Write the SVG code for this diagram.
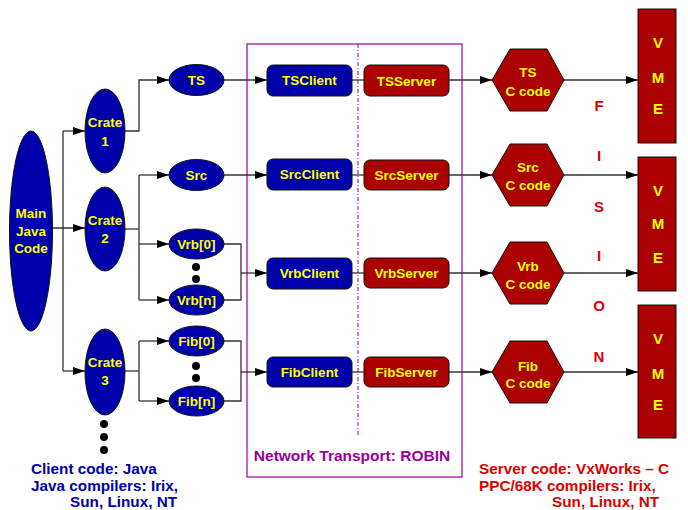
<svg xmlns="http://www.w3.org/2000/svg" width="688" height="510" viewBox="0 0 688 510">
<style>
text{font-family:"Liberation Sans",Arial,sans-serif;font-weight:bold;text-anchor:middle;dominant-baseline:central}
.bl{fill:#0000aa;stroke:#111;stroke-width:1}
.rd{fill:#aa0000;stroke:#111;stroke-width:1}
.lb{fill:#ffff00;font-size:13.5px}
.vme{fill:#ffff00;font-size:15px}
.fis{fill:#dd0000;font-size:15px}
.note{font-size:15.3px;text-anchor:start}
.c line,.c polyline{fill:none;stroke:#333;stroke-width:1.3}
.dot{fill:#000}
</style>
<defs>
<marker id="a" markerWidth="12" markerHeight="8" refX="12" refY="4" orient="auto" markerUnits="userSpaceOnUse">
<path d="M0,0 L12,4 L0,8 z" fill="#000"/>
</marker>
</defs>

<g id="transport">
<rect x="247" y="44" width="215" height="433" fill="none" stroke="#990099" stroke-width="1.2"/>
<line x1="358" y1="44" x2="358" y2="437" stroke="#990099" stroke-width="1" stroke-dasharray="4,2,1,2"/>
<text x="352" y="455" style="fill:#990099;font-size:15.5px">Network Transport: ROBIN</text>
</g>

<g class="c" id="connectors">
<line x1="52" y1="228" x2="85" y2="228" marker-end="url(#a)"/>
<line x1="63" y1="131" x2="63" y2="371"/>
<line x1="63" y1="131" x2="85" y2="131" marker-end="url(#a)"/>
<line x1="63" y1="371" x2="85" y2="371" marker-end="url(#a)"/>
<polyline points="125,131 139,131 139,80 169,80" marker-end="url(#a)"/>
<line x1="125" y1="229" x2="139" y2="229"/>
<line x1="139" y1="175" x2="139" y2="300"/>
<line x1="139" y1="175" x2="169" y2="175" marker-end="url(#a)"/>
<line x1="139" y1="244" x2="169" y2="244" marker-end="url(#a)"/>
<line x1="139" y1="300" x2="169" y2="300" marker-end="url(#a)"/>
<line x1="125" y1="371" x2="139" y2="371"/>
<line x1="139" y1="341" x2="139" y2="401"/>
<line x1="139" y1="341" x2="169" y2="341" marker-end="url(#a)"/>
<line x1="139" y1="401" x2="169" y2="401" marker-end="url(#a)"/>
<line x1="224" y1="80" x2="267" y2="80" marker-end="url(#a)"/>
<line x1="224" y1="175" x2="267" y2="175" marker-end="url(#a)"/>
<polyline points="224,244 241,244 241,300 224,300"/>
<line x1="241" y1="273" x2="267" y2="273" marker-end="url(#a)"/>
<polyline points="224,341 241,341 241,401 224,401"/>
<line x1="241" y1="372" x2="267" y2="372" marker-end="url(#a)"/>
<line x1="352" y1="80" x2="364" y2="80"/>
<line x1="352" y1="175" x2="364" y2="175"/>
<line x1="352" y1="273" x2="364" y2="273"/>
<line x1="352" y1="372" x2="364" y2="372"/>
<line x1="449" y1="80" x2="492" y2="80" marker-end="url(#a)"/>
<line x1="449" y1="175" x2="492" y2="175" marker-end="url(#a)"/>
<line x1="449" y1="273" x2="492" y2="273" marker-end="url(#a)"/>
<line x1="449" y1="372" x2="492" y2="372" marker-end="url(#a)"/>
<line x1="564" y1="80" x2="638" y2="80" marker-end="url(#a)"/>
<line x1="564" y1="175" x2="638" y2="175" marker-end="url(#a)"/>
<line x1="564" y1="273" x2="638" y2="273" marker-end="url(#a)"/>
<line x1="564" y1="372" x2="638" y2="372" marker-end="url(#a)"/>
</g>

<g id="main"><ellipse class="bl" cx="31" cy="231" rx="21.5" ry="100"/>
<text class="lb" x="31" y="213">Main</text><text class="lb" x="31" y="231">Java</text><text class="lb" x="31" y="248">Code</text></g>

<g id="crate1"><ellipse class="bl" cx="105" cy="131" rx="20" ry="42"/>
<text class="lb" x="105" y="122">Crate</text><text class="lb" x="105" y="141">1</text></g>
<g id="crate2"><ellipse class="bl" cx="105" cy="229" rx="20" ry="42"/>
<text class="lb" x="105" y="220">Crate</text><text class="lb" x="105" y="238">2</text></g>
<g id="crate3"><ellipse class="bl" cx="105" cy="372" rx="20" ry="43"/>
<text class="lb" x="105" y="362">Crate</text><text class="lb" x="105" y="380">3</text></g>
<g id="crate-dots"><circle class="dot" cx="104" cy="424" r="4"/><circle class="dot" cx="104" cy="437" r="4"/><circle class="dot" cx="104" cy="450" r="4"/></g>

<g id="ts"><ellipse class="bl" cx="196.5" cy="80" rx="27.5" ry="15.5"/><text class="lb" x="196.5" y="80">TS</text></g>
<g id="src"><ellipse class="bl" cx="196.5" cy="175" rx="27.5" ry="15.5"/><text class="lb" x="196.5" y="175">Src</text></g>
<g id="vrb0"><ellipse class="bl" cx="196.5" cy="244" rx="27.5" ry="15"/><text class="lb" x="196.5" y="244">Vrb[0]</text></g>
<g id="vrbn"><ellipse class="bl" cx="196.5" cy="300" rx="27.5" ry="15"/><text class="lb" x="196.5" y="300">Vrb[n]</text></g>
<g id="vrb-dots"><circle class="dot" cx="196" cy="267" r="4"/><circle class="dot" cx="196" cy="279" r="4"/></g>
<g id="fib0"><ellipse class="bl" cx="196.5" cy="341" rx="27.5" ry="15"/><text class="lb" x="196.5" y="341">Fib[0]</text></g>
<g id="fibn"><ellipse class="bl" cx="196.5" cy="401" rx="27.5" ry="15"/><text class="lb" x="196.5" y="401">Fib[n]</text></g>
<g id="fib-dots"><circle class="dot" cx="196" cy="366" r="4"/><circle class="dot" cx="196" cy="378" r="4"/></g>

<g id="tsclient"><rect class="bl" x="267" y="65" width="85" height="31" rx="6"/><text class="lb" x="309.5" y="80.5">TSClient</text></g>
<g id="srcclient"><rect class="bl" x="267" y="159" width="85" height="31" rx="6"/><text class="lb" x="309.5" y="174.5">SrcClient</text></g>
<g id="vrbclient"><rect class="bl" x="267" y="258" width="85" height="31" rx="6"/><text class="lb" x="309.5" y="273.5">VrbClient</text></g>
<g id="fibclient"><rect class="bl" x="267" y="357" width="85" height="30" rx="6"/><text class="lb" x="309.5" y="372">FibClient</text></g>

<g id="tsserver"><rect class="rd" x="364" y="65" width="85" height="31" rx="6"/><text class="lb" x="406.5" y="81">TSServer</text></g>
<g id="srcserver"><rect class="rd" x="364" y="160" width="85" height="30" rx="6"/><text class="lb" x="406.5" y="175">SrcServer</text></g>
<g id="vrbserver"><rect class="rd" x="364" y="258" width="85" height="30" rx="6"/><text class="lb" x="406.5" y="273">VrbServer</text></g>
<g id="fibserver"><rect class="rd" x="364" y="357" width="85" height="30" rx="6"/><text class="lb" x="406.5" y="372">FibServer</text></g>

<g id="tsc"><polygon class="rd" points="492,80 510,49 547,49 564,80 547,111 510,111"/>
<text class="lb" x="528" y="72">TS</text><text class="lb" x="528" y="91">C code</text></g>
<g id="srcc"><polygon class="rd" points="492,175 510,144 547,144 564,175 547,206 510,206"/>
<text class="lb" x="528" y="167">Src</text><text class="lb" x="528" y="185">C code</text></g>
<g id="vrbc"><polygon class="rd" points="492,273 510,242 547,242 564,273 547,304 510,304"/>
<text class="lb" x="528" y="266">Vrb</text><text class="lb" x="528" y="284">C code</text></g>
<g id="fibc"><polygon class="rd" points="492,372 510,341 547,341 564,372 547,403 510,403"/>
<text class="lb" x="528" y="366">Fib</text><text class="lb" x="528" y="383">C code</text></g>

<g id="vme1"><rect class="rd" x="638" y="9" width="38" height="134"/>
<text class="vme" x="658" y="42">V</text><text class="vme" x="658" y="77">M</text><text class="vme" x="658" y="108">E</text></g>
<g id="vme2"><rect class="rd" x="638" y="157" width="38" height="134"/>
<text class="vme" x="658" y="190">V</text><text class="vme" x="658" y="223">M</text><text class="vme" x="658" y="257">E</text></g>
<g id="vme3"><rect class="rd" x="638" y="305" width="38" height="133"/>
<text class="vme" x="658" y="338">V</text><text class="vme" x="658" y="373">M</text><text class="vme" x="658" y="404">E</text></g>

<g id="fision">
<text class="fis" x="599" y="105">F</text>
<text class="fis" x="599" y="155">I</text>
<text class="fis" x="599" y="206">S</text>
<text class="fis" x="599" y="255">I</text>
<text class="fis" x="599" y="305">O</text>
<text class="fis" x="599" y="356">N</text>
</g>

<g id="client-note" style="fill:#0000aa">
<text class="note" x="31" y="468">Client code: Java</text>
<text class="note" x="31" y="485">Java compilers: Irix,</text>
<text class="note" x="70" y="501">Sun, Linux, NT</text>
</g>
<g id="server-note" style="fill:#dd0000">
<text class="note" x="479" y="468">Server code: VxWorks – C</text>
<text class="note" x="479" y="485">PPC/68K compilers: Irix,</text>
<text class="note" x="552" y="501">Sun, Linux, NT</text>
</g>
</svg>
